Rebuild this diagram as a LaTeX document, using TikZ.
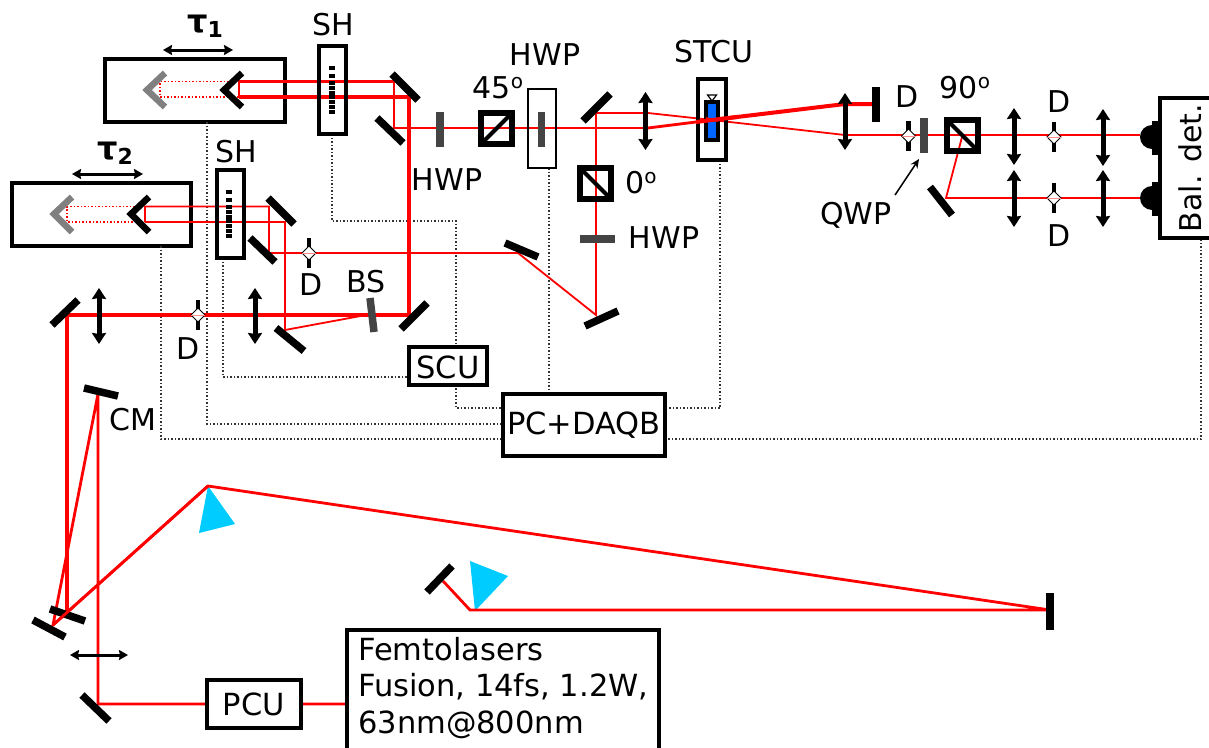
\documentclass[tikz,border=0pt]{standalone}
\usepackage{fontspec}
\setmainfont{DejaVu Sans}
\usetikzlibrary{arrows.meta,calc}
\definecolor{beam}{RGB}{255,0,0}
\definecolor{prismc}{RGB}{0,204,255}
\definecolor{plate}{RGB}{68,68,68}
\tikzset{
 beamthin/.style={draw=beam,line width=1.8pt},
 beammid/.style={draw=beam,line width=2.8pt},
 beamthick/.style={draw=beam,line width=4pt},
 beamdot/.style={draw=beam,line width=1.5pt,dash pattern=on 1.5pt off 2pt},
 ctrl/.style={draw=black!80,line width=1.4pt,dash pattern=on 1.5pt off 2pt},
 mirror/.style={draw=black,line width=7.5pt},
 retro/.style={draw=black,line width=6.5pt,miter limit=10},
 retrog/.style={draw=gray,line width=6.5pt,miter limit=10},
 lensarrow/.style={draw=black,line width=5pt,{Stealth[length=11pt,width=14pt,inset=1pt]}-{Stealth[length=11pt,width=14pt,inset=1pt]}},
 movearrow/.style={draw=black,line width=3pt,{Stealth[length=9pt,width=10pt,inset=1pt]}-{Stealth[length=9pt,width=10pt,inset=1pt]}},
 waveplate/.style={draw=plate,line width=7.5pt},
 cube/.style={draw=black,line width=6.5pt,fill=none,minimum size=31pt,inner sep=0pt,outer sep=0pt},
 cubediag/.style={draw=black,line width=4pt,shorten <=2pt,shorten >=2pt},
 box/.style={draw=black,line width=3.3pt,fill=white,inner sep=0pt,outer sep=0pt},
 label/.style={inner sep=0pt,font=\fontsize{30}{32}\selectfont},
 boxtext/.style={inner sep=0pt,font=\fontsize{30.5}{32}\selectfont},
 barb/.style={draw=black,line width=4.5pt},
 diamond node/.style={draw=black,line width=1pt,fill=white},
}
\newcommand{\diaph}[3]{% name, x, y
 \coordinate (#1) at (#2,#3);
 \draw[barb] ($(#1)+(0,-15)$) -- ($(#1)+(0,15)$);
 \draw[diamond node] ($(#1)+(0,-7)$) -- ($(#1)+(7,0)$) -- ($(#1)+(0,7)$) -- ($(#1)+(-7,0)$) -- cycle;
 \draw[draw=beam!45,line width=1pt] ($(#1)+(-7,0)$) -- ($(#1)+(7,0)$);
}
\newcommand{\shbars}[2]{% x, y offset
 \foreach \yy in {0,8,15,20,25,29,34,39,44} \fill[black] (#1-3,#2+\yy-1.8) rectangle (#1+3,#2+\yy+1.8);
}
\begin{document}
\begin{tikzpicture}[x=1pt,y=-1pt]
\useasboundingbox (0,0) rectangle (1209,747);
\clip (0,0) rectangle (1209,747);
% ---- control (dotted) wires, under boxes
\node[box,minimum width=180pt,minimum height=63pt] (stageA) at (195,90.5) {};
\node[box,minimum width=179pt,minimum height=63pt] (stageB) at (101.5,214.5) {};
\coordinate (ctlA) at (207,424);
\coordinate (ctlB) at (161,439);
\coordinate (ctlBr) at (1201,439);
\coordinate (ctlS1a) at (332,221);
\coordinate (ctlS1b) at (456,221);
\coordinate (ctlS1c) at (456,408);
\coordinate (ctlS2) at (223,377);
\coordinate (ctlT) at (720,408);
\draw[ctrl] (207,122) -- (ctlA) -- (503,424);
\draw[ctrl] (161,246) -- (ctlB) -- (ctlBr) -- (1201,238);
\draw[ctrl] (332,134) -- (ctlS1a) -- (ctlS1b) -- (ctlS1c) -- (503,408);
\draw[ctrl] (223,258) -- (ctlS2) -- (408,377);
\draw[ctrl] (549,168) -- (549,394);
\draw[ctrl] (720,160) -- (ctlT) -- (665,408);
% ---- pump / fibre path
\coordinate (laser) at (347,704);
\coordinate (mBot) at (98,704);
\coordinate (cmP) at (98,394);
\coordinate (mFold) at (53,625);
\coordinate (pr1) at (208,486);
\coordinate (endM) at (1050,610);
\coordinate (pr2) at (470,610);
\coordinate (mPr) at (443,581);
\coordinate (mIn) at (67,315);
\coordinate (mFoldB) at (67,611);
\fill[prismc] (pr1) -- (199,533) -- (235,524) -- cycle;
\fill[prismc] (470,561) -- (508,576) -- (475,611) -- cycle;
\draw[beammid] (laser) -- (mBot) -- (cmP) -- (mFold) -- (pr1) -- (endM) -- (pr2) -- (mPr);
\draw[beamthick] (mFoldB) -- (mIn) -- (409,315) -- (409,97);
% ---- delay arm 1
\coordinate (a1) at (239,81.5);
\coordinate (a2) at (239,97);
\coordinate (a3) at (394,81.5);
\coordinate (a4) at (409,97);
\coordinate (a5) at (394,128);
\coordinate (a6) at (648,128);
\coordinate (focus) at (712,120);
\coordinate (a7) at (845,104);
\coordinate (a8) at (875,104);
\draw[beamdot] (a1) -- (160,81.5) -- (160,97) -- (a2);
\draw[beammid] (a2) -- (a1) -- (a3) -- (a5) -- (a6);
\draw[beamthick] (a2) -- (a4);
\draw[beammid] (a6) -- (focus);
\draw[beamthick] (focus) -- (a7) -- (a8);
% ---- delay arm 2
\coordinate (b1) at (145,206.5);
\coordinate (b2) at (145,222);
\coordinate (b3) at (269,206.5);
\coordinate (b4) at (285,222);
\coordinate (b5) at (269,253);
\coordinate (b6) at (518,253);
\coordinate (b7) at (596,315);
\coordinate (b8) at (596,113);
\coordinate (b9) at (648,113);
\coordinate (b10) at (845,135);
\coordinate (b11) at (285,330);
\coordinate (b12) at (366,315);
\draw[beamdot] (b1) -- (67,206.5) -- (67,222) -- (b2);
\draw[beamthin] (b2) -- (b1) -- (b3) -- (b5) -- (b6) -- (b7) -- (b8) -- (b9) -- (focus) -- (b10) -- (1140,135);
\draw[beamthin] (b2) -- (b4) -- (b11) -- (b12);
% ---- detection arm
\coordinate (c1) at (962,137);
\coordinate (c2) at (946,198);
\coordinate (c3) at (1140,198);
\draw[beamthin] (c1) -- (c2) -- (c3);
% ---- retroreflectors
\draw[retro] (242,73) -- (224,90) -- (242,107);
\draw[retrog] (165,73) -- (147,90) -- (165,107);
\draw[retro] (149,197) -- (131,214) -- (149,232);
\draw[retrog] (72,197) -- (54,214) -- (72,232);
% ---- mirrors
\draw[mirror] (392,74) -- (418,100);
\draw[mirror] (377,118) -- (403,143);
\draw[mirror] (268,198) -- (294,224);
\draw[mirror] (250,238) -- (275,262);
\draw[mirror] (276,328) -- (304,351);
\draw[mirror] (401,329) -- (427,303);
\draw[mirror] (52,325) -- (78,300);
\draw[mirror] (583,121) -- (610,94);
\draw[mirror] (505,243) -- (538,257);
\draw[mirror] (585,326) -- (618,311);
\draw[mirror] (84,388) -- (118,396);
\draw[mirror] (50,609) -- (85,621);
\draw[mirror] (33,620) -- (65,637);
\draw[mirror] (82,695) -- (109,721);
\draw[mirror] (427,592) -- (452,566);
\draw[mirror] (1050,593) -- (1050,630);
\draw[mirror,line width=8pt] (876,87) -- (876,122);
\draw[mirror] (930,187) -- (952,215);
\draw[beammid] (mFold) -- (pr1);
% ---- prism-compressor translation
\draw[movearrow] (70,655) -- (128,655);
% ---- boxes with plates
\node[box,minimum width=27pt,minimum height=88pt,fill=none] (shA) at (332.5,90) {};
\node[box,minimum width=27pt,minimum height=88pt,fill=none] (shB) at (230.5,214) {};
\shbars{332}{68}
\shbars{229}{192}
\node[box,minimum width=28pt,minimum height=79pt,fill=none,line width=2.8pt] (hwpBox) at (542,128.5) {};
\node[box,minimum width=28pt,minimum height=81pt,fill=none] (stcu) at (712,119.5) {};
% ---- sample
\draw[black,line width=3.2pt,fill={rgb,255:red,0;green,102;blue,255}] (706,102) rectangle (718,140);
\draw[black,line width=1.2pt] (707.5,95) -- (716.5,95) -- (712,101) -- cycle;
\draw[beamthick] ($(a6)!0.75!(focus)$) -- (focus) -- ($(focus)!0.2!(a7)$);
\draw[beamthin] (706,118) -- (718,121);
% ---- waveplates
\draw[waveplate] (440,112) -- (440,147);
\draw[waveplate] (541.5,112) -- (541.5,147);
\draw[waveplate] (580,239) -- (615,239);
\draw[waveplate] (924,118) -- (924,153);
\draw[waveplate] (370,298) -- (374,332);
% ---- cubes
\node[cube] (cube45) at (496.5,128.5) {};
\draw[cubediag] (cube45.south west) -- (cube45.north east);
\node[cube] (cube0) at (595.5,183.5) {};
\draw[cubediag] (cube0.north west) -- (cube0.south east);
\node[cube] (cube90) at (962.5,135.5) {};
\draw[cubediag] (cube90.north west) -- (cube90.south east);
% ---- lenses
\draw[lensarrow] (99,288) -- (99,344);
\draw[lensarrow] (255,288) -- (255,344);
\draw[lensarrow] (645.5,92) -- (645.5,150);
\draw[lensarrow] (845,93) -- (845,150);
\draw[lensarrow] (1014,108) -- (1014,165);
\draw[lensarrow] (1014,170) -- (1014,227);
\draw[lensarrow] (1103,109) -- (1103,166);
\draw[lensarrow] (1103,170) -- (1103,227);
\draw[movearrow] (163,50) -- (233,50);
\draw[movearrow] (72,174) -- (143,174);
% ---- diaphragms
\diaph{dA}{198}{315}
\diaph{dB}{309}{253}
\diaph{dC}{908.5}{136}
\diaph{dD}{1054}{137}
\diaph{dE}{1054}{198}
% ---- detector
\node[box,minimum width=60pt,minimum height=140pt,anchor=north west] (bal) at (1160,98) {};
\node[label,rotate=90] (balT) at (1190,168) {Bal. det.};
\fill[black] (1152,121) rectangle (1160,155);
\fill[black] (1152,182) rectangle (1160,216);
\fill[black] (1152,125) arc[start angle=270,end angle=90,radius=12] -- cycle;
\fill[black] (1152,186) arc[start angle=270,end angle=90,radius=12] -- cycle;
% ---- instrument boxes
\node[box,minimum width=78pt,minimum height=38pt] (scu) at (448,366) {};
\node[boxtext] (scuT) at (448,367) {SCU};
\node[box,minimum width=162pt,minimum height=62pt] (pc) at (584,425) {};
\node[boxtext] (pcT) at (584,425) {PC+DAQB};
\node[box,minimum width=94pt,minimum height=48pt] (pcu) at (254,704) {};
\node[boxtext] (pcuT) at (254,704) {PCU};
\node[box,minimum width=312pt,minimum height=140pt,anchor=north west] (fem) at (347,630) {};
\node[boxtext,anchor=base west] (f1) at (358,660) {Femtolasers};
\node[boxtext,anchor=base west] (f2) at (358,696) {Fusion, 14fs, 1.2W,};
\node[boxtext,anchor=base west] (f3) at (358,733) {63nm@800nm};
% ---- QWP pointer
\coordinate (qwpTail) at (895,195);
\coordinate (qwpHead) at (919,159);
\draw[black,line width=1.5pt,-{Stealth[length=9pt,width=8pt]}] (qwpTail) -- (qwpHead);
% ---- labels
\node[label,font=\fontsize{32}{32}\selectfont\bfseries] (tau1) at (205,26) {τ\raisebox{-5pt}{\fontsize{22}{22}\selectfont 1}};
\node[label,font=\fontsize{32}{32}\selectfont\bfseries] (tau2) at (115,153) {τ\raisebox{-5pt}{\fontsize{22}{22}\selectfont 2}};
\node[label] (lSHa) at (333,25) {SH};
\node[label] (lSHb) at (236,152) {SH};
\node[label] (lHWa) at (447,180) {HWP};
\node[label] (lHWb) at (545,55) {HWP};
\node[label] (lHWc) at (664,238) {HWP};
\node[label] (l45) at (498,88) {45\raisebox{10pt}{\fontsize{20}{20}\selectfont o}};
\node[label] (l0) at (641,183) {0\raisebox{10pt}{\fontsize{20}{20}\selectfont o}};
\node[label] (l90) at (965,88) {90\raisebox{10pt}{\fontsize{20}{20}\selectfont o}};
\node[label] (lST) at (714,52) {STCU};
\node[label] (lD1) at (907,97) {D};
\node[label] (lD2) at (1059,102) {D};
\node[label] (lD3) at (1059,236) {D};
\node[label] (lD4) at (311,285) {D};
\node[label] (lD5) at (188,349) {D};
\node[label] (lBS) at (366,282) {BS};
\node[label] (lCM) at (133,420) {CM};
\node[label] (lQ) at (856,215) {QWP};
\end{tikzpicture}
\end{document}
